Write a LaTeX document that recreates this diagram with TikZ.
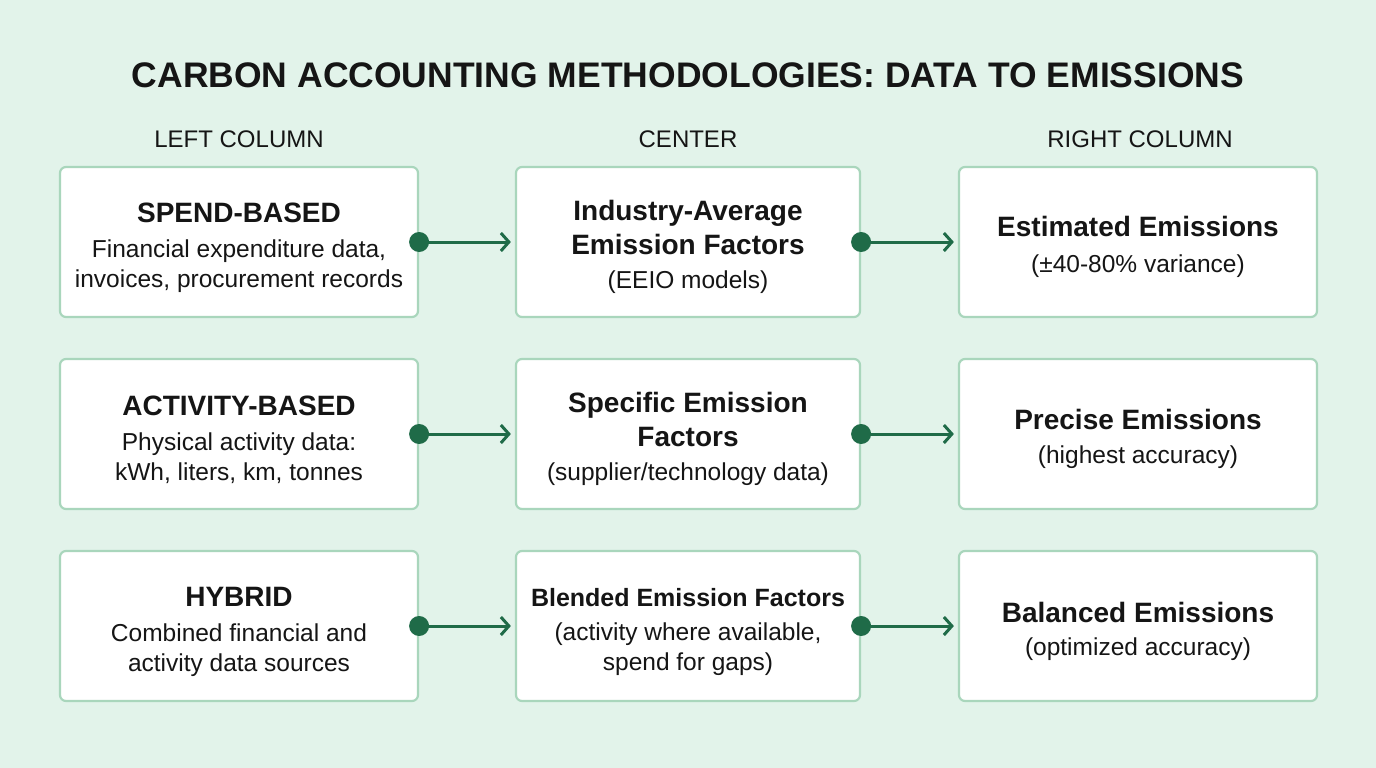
\documentclass[tikz,border=0pt]{standalone}
\usepackage{fontspec}
\setmainfont{Liberation Sans}
\usepackage{tikz}
\usetikzlibrary{arrows.meta}
\definecolor{bgmint}{HTML}{E2F3EA}
\definecolor{boxedge}{HTML}{A9D6BC}
\definecolor{flowgreen}{HTML}{1F6B48}
\definecolor{inktext}{HTML}{151515}
\tikzstyle{card}=[draw=boxedge,line width=2.2pt,fill=white,rounded corners=6pt,align=center,text=inktext,minimum height=150pt,inner sep=0pt,font=\fontsize{24.5}{30}\selectfont]
\tikzstyle{wide card}=[card,minimum width=358pt]
\tikzstyle{mid card}=[card,minimum width=344pt]
\tikzstyle{flow}=[draw=flowgreen,line width=3pt,-{Straight Barb[length=8pt,width=18pt,line width=3pt]},shorten >=4pt]
\tikzstyle{head}=[font=\fontsize{24}{28}\selectfont,text=inktext]
\newcommand{\hd}[1]{{\fontsize{28}{30}\selectfont\bfseries #1}}
\newcommand{\lift}{\rule{0pt}{31pt}}

\begin{document}
\begin{tikzpicture}[x=1pt,y=-1pt]
    \fill[bgmint] (0,0) rectangle (1376,768);
    \useasboundingbox (0,0) rectangle (1376,768);
    \node[font=\fontsize{35.5}{40}\selectfont\bfseries,text=inktext] (title) at (688,75) {CARBON ACCOUNTING METHODOLOGIES: DATA TO EMISSIONS};
    \foreach \pos/\name/\txt in {{(239,139)/hleft/LEFT COLUMN}, {(688,139)/hcenter/CENTER}, {(1140,139)/hright/RIGHT COLUMN}}
        \node[head] (\name) at \pos {\txt};
    % left column
    \node[wide card] (spend) at (239,242) {\lift\hd{SPEND-BASED}\\[5pt]Financial expenditure data,\\invoices, procurement records};
    \node[wide card] (activity) at (239,434) {\lift\hd{ACTIVITY-BASED}\\[5pt]Physical activity data:\\kWh, liters, km, tonnes};
    \node[wide card] (hybrid) at (239,626) {\lift\hd{HYBRID}\\[5pt]Combined financial and\\activity data sources};
    % center
    \node[mid card] (industry) at (688,242) {\lift\hd{Industry-Average}\\[4pt]\hd{Emission Factors}\\[4pt](EEIO models)};
    \node[mid card] (specific) at (688,434) {\lift\hd{Specific Emission}\\[4pt]\hd{Factors}\\[4pt](supplier/technology data)};
    \node[mid card] (blended) at (688,626) {\lift{\fontsize{25}{30}\selectfont\bfseries Blended Emission Factors}\\[4pt](activity where available,\\spend for gaps)};
    % right column
    \node[wide card] (estimated) at (1138,242) {\lift\hd{Estimated Emissions}\\[6pt](±40-80\% variance)};
    \node[wide card] (precise) at (1138,434) {\lift\hd{Precise Emissions}\\[4pt](highest accuracy)};
    \node[wide card] (balanced) at (1138,626) {\lift\hd{Balanced Emissions}\\[3pt](optimized accuracy)};
    \foreach \source/\dest in {spend/industry, activity/specific, hybrid/blended, industry/estimated, specific/precise, blended/balanced}
    {
        \path[flow] (\source.east) -- (\dest.west);
        \fill[flowgreen] (\source.east) circle (10pt);
    }
\end{tikzpicture}
\end{document}
